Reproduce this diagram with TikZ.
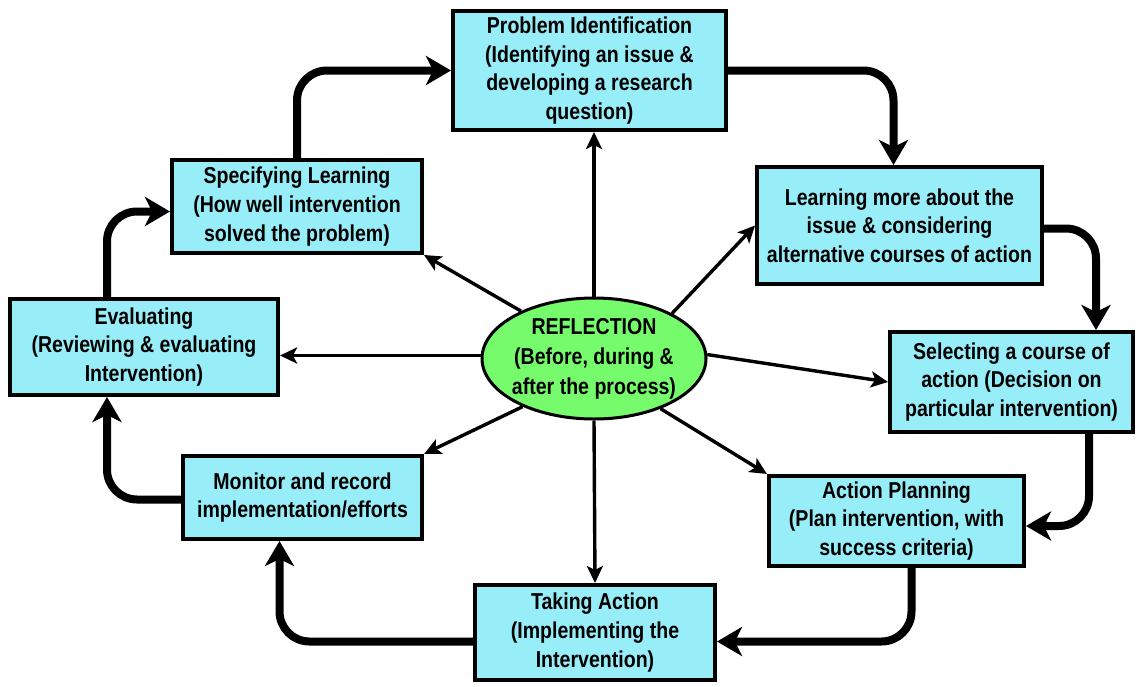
\documentclass[tikz,border=0pt]{standalone}
\usepackage{fontspec}
\setmainfont{Liberation Sans}[FakeStretch=0.85]
\usetikzlibrary{arrows.meta,shapes.geometric}

\tikzset{
  stagebox/.style={draw=black, line width=4pt, fill=r151g238b248, align=center,
    inner sep=0pt, font=\bfseries\fontsize{23}{28.7}\selectfont},
  reflshape/.style={ellipse, draw=black, line width=3pt, fill=r118g251b108, align=center,
    inner xsep=-40pt, inner ysep=-20pt, font=\bfseries\fontsize{23}{30}\selectfont},
  loopline/.style={line width=8pt, line cap=round, rounded corners=30pt,
    -{Stealth[length=25pt,width=29pt,inset=7pt]}},
  spokeline/.style={line width=3.4pt, -{Stealth[length=17pt,width=16pt,inset=4pt]}},
}

\begin{document}
\begin{tikzpicture}[x=1pt,y=-1pt]
                        \useasboundingbox (0,0) rectangle (1137,686);

                        % Changing color 151 238 248
                        \definecolor{r151g238b248}{RGB}{151,238,248}%
                        % Changing color 118 251 108
                        \definecolor{r118g251b108}{RGB}{118,251,108}%

                        % Drawing box Problem Identification
                        \node[stagebox, minimum width=273, minimum height=119] (prob) at (589.5,70.5)
                          {Problem Identification\\(Identifying an issue \&\\developing a research\\question)};

                        % Drawing box Learning more
                        \node[stagebox, minimum width=285, minimum height=117] (learn) at (899.5,225.5)
                          {Learning more about the\\issue \& considering\\alternative courses of action};

                        % Drawing box Selecting
                        \node[stagebox, minimum width=243, minimum height=100] (select) at (1011.5,382)
                          {Selecting a course of\\action (Decision on\\particular intervention)};

                        % Drawing box Action Planning
                        \node[stagebox, minimum width=255, minimum height=90] (plan) at (896.5,521)
                          {Action Planning\\(Plan intervention, with\\success criteria)};

                        % Drawing box Taking Action
                        \node[stagebox, minimum width=240, minimum height=95] (take) at (595,632.5)
                          {Taking Action\\(Implementing the\\Intervention)};

                        % Drawing box Monitor
                        \node[stagebox, minimum width=239, minimum height=83] (monitor) at (302.5,497.5)
                          {Monitor and record\\implementation/efforts};

                        % Drawing box Evaluating
                        \node[stagebox, minimum width=268, minimum height=96] (eval) at (144,347)
                          {Evaluating\\(Reviewing \& evaluating\\Intervention)};

                        % Drawing box Specifying Learning
                        \node[stagebox, minimum width=250, minimum height=93] (spec) at (297,206.5)
                          {Specifying Learning\\(How well intervention\\solved the problem)};

                        % Drawing ellipse REFLECTION
                        \node[reflshape, minimum width=224, minimum height=121] (refl) at (594,358.5)
                          {REFLECTION\\(Before, during \&\\after the process)};

                        % Drawing spokes from REFLECTION
                        \draw[spokeline] (refl.north) -- (refl.north |- prob.south);
                        \draw[spokeline] (refl.30) -- (learn.west);
                        \draw[spokeline] (refl.2) -- (select.west);
                        \draw[spokeline] (refl.-37) -- (plan.north west);
                        \draw[spokeline] (refl.south) -- (take.north);
                        \draw[spokeline] (refl.214) -- (monitor.north east);
                        \draw[spokeline] ([yshift=3pt]refl.west) -- ([yshift=3pt]refl.west -| eval.east);
                        \draw[spokeline] (refl.147) -- (spec.south east);

                        % Drawing cycle prob learn
                        \draw[loopline] (prob.east) -| ([xshift=-6pt]learn.north);
                        % Drawing cycle learn select
                        \draw[loopline] ([yshift=-3pt]learn.east) -| ([xshift=-39pt]select.north east);
                        % Drawing cycle select plan
                        \draw[loopline] ([xshift=-46pt]select.south east) |- ([yshift=-5pt]plan.east);
                        % Drawing cycle plan take
                        \draw[loopline] ([xshift=15pt]plan.south) |- ([yshift=-9pt]take.east);
                        % Drawing cycle take monitor
                        \draw[loopline] ([yshift=-9pt]take.west) -| ([xshift=-23pt]monitor.south);
                        % Drawing cycle monitor eval
                        \draw[loopline] ([yshift=-2pt]monitor.west) -| ([xshift=-37pt]eval.south);
                        % Drawing cycle eval spec
                        \draw[loopline] ([xshift=-37pt]eval.north) |- ([yshift=-5pt]spec.west);
                        % Drawing cycle spec prob
                        \draw[loopline] (spec.north) |- (prob.west);
\end{tikzpicture}
\end{document}
